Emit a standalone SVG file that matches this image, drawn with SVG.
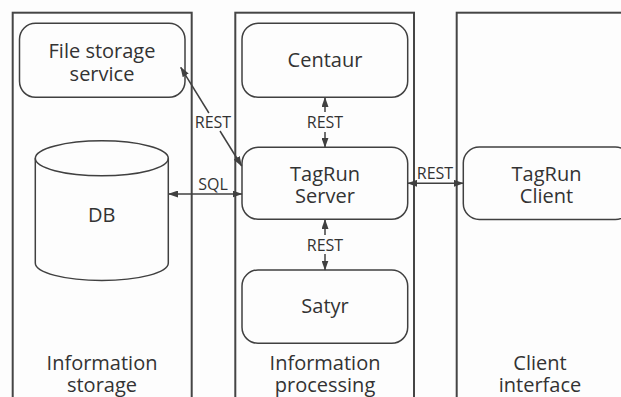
<svg xmlns="http://www.w3.org/2000/svg" width="621" height="397" viewBox="0 0 621 397">
<defs>
<style>
.col{fill:none;stroke:#454545;stroke-width:2}
.box{fill:none;stroke:#404040;stroke-width:1.5}
.t{font-family:"Open Sans","Noto Sans",sans-serif;font-size:20px;fill:#333;text-anchor:middle}
.l{font-family:"Open Sans","Noto Sans",sans-serif;font-size:16px;fill:#333;text-anchor:middle}
.c{fill:none;stroke:#404040;stroke-width:1.5}
</style>
<marker id="ah" viewBox="0 0 10 7" refX="9.5" refY="3.5" markerWidth="10" markerHeight="7" markerUnits="userSpaceOnUse" orient="auto-start-reverse">
<path d="M0,0 L10,3.5 L0,7 z" fill="#404040"/>
</marker>
</defs>
<rect width="621" height="397" fill="#fdfdfd"/>
<g id="col-storage">
<rect class="col" x="12.7" y="12.7" width="179" height="400"/>
<text class="t" x="102" y="370">Information</text>
<text class="t" x="102" y="392">storage</text>
</g>
<g id="col-processing">
<rect class="col" x="235.3" y="12.7" width="178.7" height="400"/>
<text class="t" x="325" y="370">Information</text>
<text class="t" x="325" y="392">processing</text>
</g>
<g id="col-client">
<rect class="col" x="456.7" y="12.7" width="180" height="400"/>
<text class="t" x="540" y="370">Client</text>
<text class="t" x="540" y="392">interface</text>
</g>
<g id="file-storage">
<rect class="box" x="19.5" y="23.3" width="165.5" height="74" rx="16"/>
<text class="t" x="102" y="57.5">File storage</text>
<text class="t" x="102" y="80.5">service</text>
</g>
<g id="db">
<path class="box" d="M35.3,158.3 L35.3,263 A66.5,17.5 0 0 0 168.3,263 L168.3,158.3"/>
<ellipse class="box" cx="101.8" cy="158.3" rx="66.5" ry="17.5"/>
<text class="t" x="101.8" y="221.5">DB</text>
</g>
<g id="centaur">
<rect class="box" x="242" y="23.3" width="165.7" height="74" rx="16"/>
<text class="t" x="325" y="67">Centaur</text>
</g>
<g id="tagrun-server">
<rect class="box" x="242" y="147.3" width="165.7" height="72" rx="16"/>
<text class="t" x="325" y="181">TagRun</text>
<text class="t" x="325" y="203">Server</text>
</g>
<g id="satyr">
<rect class="box" x="242" y="270" width="165.7" height="73.3" rx="16"/>
<text class="t" x="325" y="313">Satyr</text>
</g>
<g id="tagrun-client">
<rect class="box" x="463.3" y="147" width="168" height="72.5" rx="16"/>
<text class="t" x="546.5" y="181">TagRun</text>
<text class="t" x="546.5" y="203">Client</text>
</g>
<g id="connectors">
<line class="c" x1="208.9" y1="113" x2="180.7" y2="67.3" marker-end="url(#ah)"/>
<line class="c" x1="220" y1="131" x2="241.7" y2="166" marker-end="url(#ah)"/>
<text class="l" x="213" y="127.5">REST</text>
<line class="c" x1="168.5" y1="194" x2="242" y2="194" marker-start="url(#ah)" marker-end="url(#ah)"/>
<text class="l" x="213" y="190">SQL</text>
<line class="c" x1="325" y1="112" x2="325" y2="97.5" marker-end="url(#ah)"/>
<line class="c" x1="325" y1="132" x2="325" y2="147.3" marker-end="url(#ah)"/>
<text class="l" x="325" y="128">REST</text>
<line class="c" x1="325" y1="235" x2="325" y2="219.5" marker-end="url(#ah)"/>
<line class="c" x1="325" y1="254" x2="325" y2="270" marker-end="url(#ah)"/>
<text class="l" x="325" y="250.5">REST</text>
<line class="c" x1="407.7" y1="183.3" x2="463.3" y2="183.3" marker-start="url(#ah)" marker-end="url(#ah)"/>
<text class="l" x="435" y="178.5">REST</text>
</g>
</svg>
